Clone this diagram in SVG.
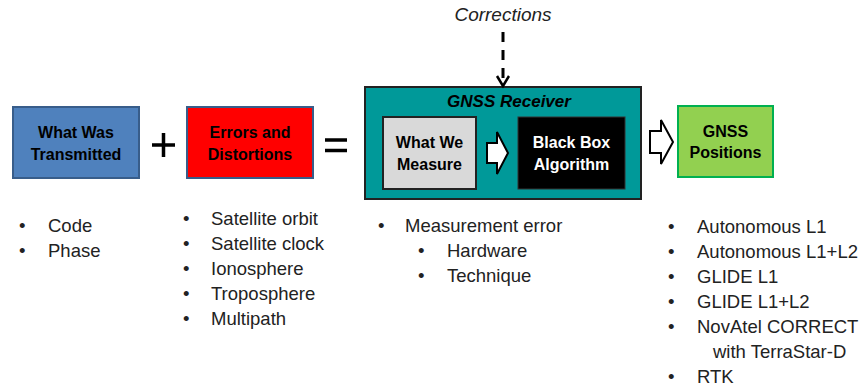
<svg xmlns="http://www.w3.org/2000/svg" width="862" height="387" viewBox="0 0 862 387">
<style>
.bt{font-family:"Liberation Sans",Arial,sans-serif;font-weight:bold;font-size:16px;text-anchor:middle;fill:#000}
.li{font-family:"Liberation Sans",Arial,sans-serif;font-size:18.5px;fill:#222}
.conn{fill:none;stroke:#000}
</style>
<rect width="862" height="387" fill="#fff"/>
<g id="transmitted">
<rect x="13" y="107" width="126" height="71" fill="#4F81BD" stroke="#385D8A" stroke-width="2"/>
<text class="bt" x="76" y="138">What Was</text>
<text class="bt" x="76" y="160">Transmitted</text>
</g>
<g id="plus">
<path d="M152 145H175M163.5 133V157" stroke="#000" stroke-width="3.5" fill="none"/>
</g>
<g id="errors">
<rect x="187" y="107" width="126" height="71" fill="#FF0000" stroke="#385D8A" stroke-width="2"/>
<text class="bt" x="250" y="138">Errors and</text>
<text class="bt" x="250" y="160">Distortions</text>
</g>
<g id="equals">
<path d="M325 140H347M325 150.5H347" stroke="#000" stroke-width="3.5" fill="none"/>
</g>
<g id="receiver">
<rect x="365" y="87" width="276" height="112" fill="#009999" stroke="#222" stroke-width="2"/>
<text class="bt" x="509" y="107" font-style="italic" style="font-size:17px">GNSS Receiver</text>
</g>
<g id="measure">
<rect x="383" y="117" width="93" height="72" fill="#D9D9D9" stroke="#222" stroke-width="2"/>
<text class="bt" x="429.5" y="148">What We</text>
<text class="bt" x="429.5" y="170">Measure</text>
</g>
<g id="blackbox">
<rect x="518" y="117" width="107" height="72" fill="#000" stroke="#333" stroke-width="1"/>
<text class="bt" x="571.5" y="148" style="fill:#fff">Black Box</text>
<text class="bt" x="571.5" y="170" style="fill:#fff">Algorithm</text>
</g>
<g id="positions">
<rect x="678" y="106" width="95" height="71" fill="#92D050" stroke="#00B050" stroke-width="2"/>
<text class="bt" x="725.5" y="137">GNSS</text>
<text class="bt" x="725.5" y="158">Positions</text>
</g>
<g id="corrections">
<text x="503" y="21" font-family="Liberation Sans, Arial, sans-serif" font-style="italic" font-size="19" text-anchor="middle" fill="#222">Corrections</text>
</g>
<g id="connectors">
<path d="M503 32V84" stroke="#000" stroke-width="3" stroke-dasharray="10,8" fill="none"/>
<path d="M497 76L503 86L509 76" stroke="#000" stroke-width="2.5" fill="none"/>
<path d="M487 143H497V132L508 153L497 174V163H487Z" fill="#fff" stroke="#000" stroke-width="2" stroke-linejoin="miter"/>
<path d="M650 131H661V120L673 142L661 164V153H650Z" fill="#fff" stroke="#000" stroke-width="2"/>
</g>
<g id="list-transmitted">
<text class="li" x="19" y="232">•</text><text class="li" x="48" y="232">Code</text>
<text class="li" x="19" y="257">•</text><text class="li" x="48" y="257">Phase</text>
</g>
<g id="list-errors">
<text class="li" x="183" y="225">•</text><text class="li" x="211" y="225">Satellite orbit</text>
<text class="li" x="183" y="250">•</text><text class="li" x="211" y="250">Satellite clock</text>
<text class="li" x="183" y="275">•</text><text class="li" x="211" y="275">Ionosphere</text>
<text class="li" x="183" y="300">•</text><text class="li" x="211" y="300">Troposphere</text>
<text class="li" x="183" y="325">•</text><text class="li" x="211" y="325">Multipath</text>
</g>
<g id="list-measure">
<text class="li" x="378" y="232">•</text><text class="li" x="405" y="232">Measurement error</text>
<text class="li" x="418" y="257">•</text><text class="li" x="447" y="257">Hardware</text>
<text class="li" x="418" y="282">•</text><text class="li" x="447" y="282">Technique</text>
</g>
<g id="list-positions">
<text class="li" x="668" y="233">•</text><text class="li" x="697" y="233">Autonomous L1</text>
<text class="li" x="668" y="258">•</text><text class="li" x="697" y="258">Autonomous L1+L2</text>
<text class="li" x="668" y="283">•</text><text class="li" x="697" y="283">GLIDE L1</text>
<text class="li" x="668" y="308">•</text><text class="li" x="697" y="308">GLIDE L1+L2</text>
<text class="li" x="668" y="333">•</text><text class="li" x="697" y="333">NovAtel CORRECT</text>
<text class="li" x="713" y="358">with TerraStar-D</text>
<text class="li" x="668" y="383">•</text><text class="li" x="697" y="383">RTK</text>
</g>
</svg>
